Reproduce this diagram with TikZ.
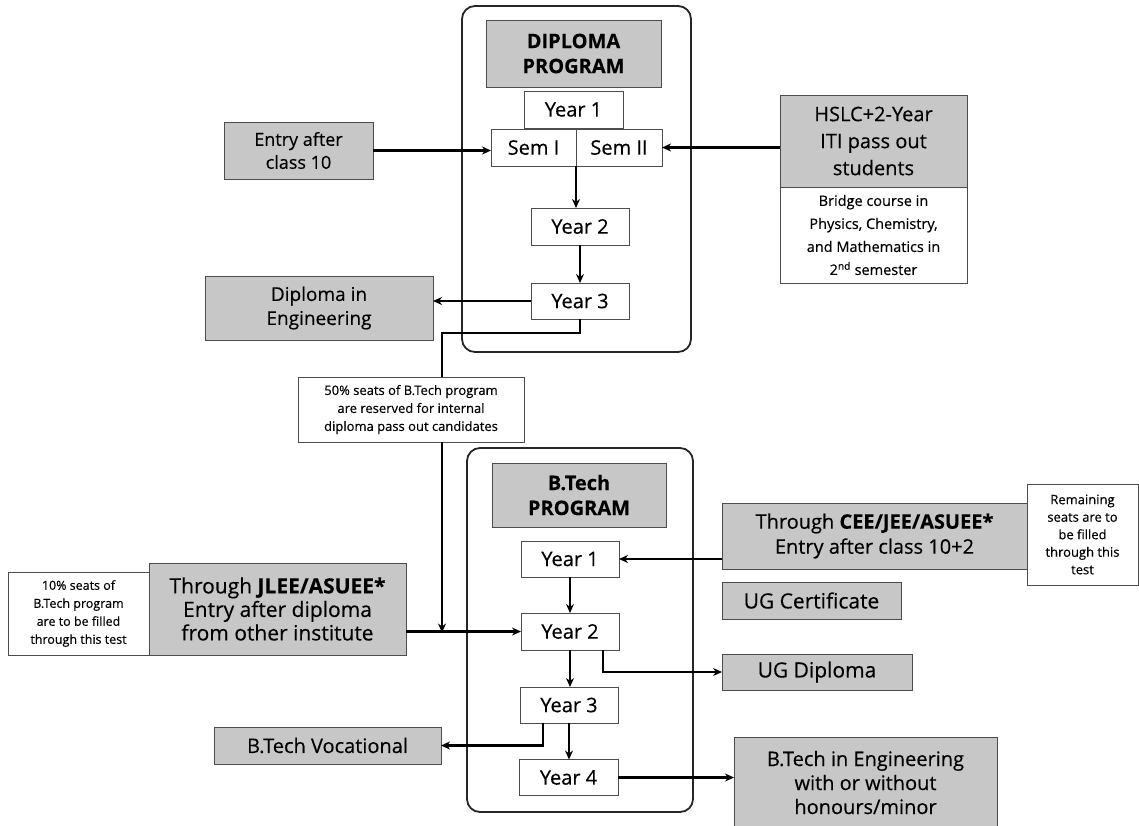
\documentclass[tikz,border=0pt]{standalone}
\usepackage{fontspec}
\setmainfont{Open Sans}[FakeBold=0.35]
\usetikzlibrary{arrows.meta}
\tikzset{
  base/.style={draw=black!70, line width=1pt, inner sep=0pt, outer sep=0pt, align=center},
  gbox/.style={base, fill=black!22},
  wbox/.style={base, fill=white},
  yearbox/.style={wbox, minimum width=98pt, minimum height=36pt, font=\fontsize{20}{22}\selectfont},
  outerbox/.style={draw=black!85, line width=1.8pt, rounded corners=13pt, inner sep=0pt, minimum width=#1},
  arr/.style={line width=2.2pt, -{Stealth[length=9pt,width=8pt]}},
  ln/.style={line width=2.2pt},
  big/.style={font=\fontsize{19}{24}\selectfont},
  small/.style={font=\fontsize{13}{18}\selectfont},
}
\begin{document}
\begin{tikzpicture}[x=1pt,y=-1pt]
\useasboundingbox (0,0) rectangle (1139,825);
% ---------- Diploma program ----------
\node[outerbox=229pt, minimum height=346pt] (dipbox) at (576.5,179) {};
\node[gbox, minimum width=175pt, minimum height=67pt, font=\bfseries\fontsize{20}{25}\selectfont] (diphead) at (573.5,53.5) {DIPLOMA\\PROGRAM};
\node[yearbox, minimum width=99pt, minimum height=37pt] (dy1) at (573.5,109.5) {Year 1};
\node[yearbox, minimum width=85pt, minimum height=37pt] (sem1) at (533.5,147.5) {Sem I};
\node[yearbox, minimum width=86pt, minimum height=37pt] (sem2) at (619,147.5) {Sem II};
\node[yearbox, minimum height=37pt] (dy2) at (580,226.5) {Year 2};
\node[yearbox] (dy3) at (580,301) {Year 3};

\node[gbox, minimum width=149pt, minimum height=57pt, font=\fontsize{18}{23}\selectfont] (entry10) at (298.5,150.5) {Entry after\\class 10};
\node[gbox, big, minimum width=228pt, minimum height=64pt] (dipeng) at (319,308) {Diploma in\\Engineering};
\node[gbox, minimum width=187pt, minimum height=92pt, font=\fontsize{20}{27}\selectfont] (hslc) at (873.5,141) {HSLC+2-Year\\ITI pass out\\students};
\node[wbox, minimum width=187pt, minimum height=96pt, font=\fontsize{14.5}{23}\selectfont] (bridge) at (873.5,235) {Bridge course in\\Physics, Chemistry,\\and Mathematics in\\2\textsuperscript{nd} semester};

\node[wbox, small, minimum width=226pt, minimum height=65pt] (pct50) at (411,409.5) {50\% seats of B.Tech program\\are reserved for internal\\diploma pass out candidates};

% ---------- B.Tech program ----------
\node[outerbox=226pt, minimum height=364pt] (btbox) at (580,630) {};
\node[gbox, minimum width=174pt, minimum height=64pt, font=\bfseries\fontsize{20}{25}\selectfont] (bthead) at (579,495) {B.Tech\\PROGRAM};
\node[yearbox] (by1) at (570,559) {Year 1};
\node[yearbox, minimum height=37pt] (by2) at (570,631.5) {Year 2};
\node[yearbox] (by3) at (569,705) {Year 3};
\node[yearbox, minimum width=99pt] (by4) at (568.5,777.5) {Year 4};

\node[wbox, minimum width=141pt, minimum height=83pt, font=\fontsize{12.5}{18}\selectfont] (pct10) at (78.5,613.5) {10\% seats of\\B.Tech program\\are to be filled\\through this test};
\node[gbox, minimum width=257pt, minimum height=92pt, font=\fontsize{21}{23.5}\selectfont] (jlee) at (277.5,609) {Through \textbf{JLEE/ASUEE*}\\Entry after diploma\\from other institute};
\node[gbox, minimum width=305pt, minimum height=66pt, font=\fontsize{20}{25}\selectfont] (cee) at (874.5,536) {Through \textbf{CEE/JEE/ASUEE*}\\Entry after class 10+2};
\node[wbox, minimum width=111pt, minimum height=101pt, font=\fontsize{13}{17.5}\selectfont] (remain) at (1082.5,534.5) {Remaining\\seats are to\\be filled\\through this\\test};
\node[gbox, minimum width=179pt, minimum height=37pt, font=\fontsize{21}{24}\selectfont] (ugcert) at (811.5,600.5) {UG Certificate};
\node[gbox, minimum width=190pt, minimum height=36pt, font=\fontsize{21}{24}\selectfont] (ugdip) at (817,672) {UG Diploma};
\node[gbox, minimum width=227pt, minimum height=37pt, font=\fontsize{20}{24}\selectfont] (btvoc) at (327.5,745.5) {B.Tech Vocational};
\node[gbox, minimum width=263pt, minimum height=91pt, font=\fontsize{20}{24}\selectfont] (bteng) at (865.5,782.5) {B.Tech in Engineering\\with or without\\honours/minor};

% ---------- connectors ----------
\coordinate (j1) at (442,333);
\coordinate (j2) at (603,675);
\coordinate (j3) at (543,745);
\draw[arr] (entry10.east) -- (entry10.east -| sem1.west);
\draw[arr] (hslc.west |- sem2.east) -- (sem2.east);
\draw[arr] (sem1.south east) -- (sem1.south east |- dy2.north);
\draw[arr] (dy2.south) -- (dy3.north);
\draw[arr] (dy3.west) -- (dy3.west -| dipeng.east);
\draw[ln] (dy3.south) |- (j1) -- (j1 |- pct50.north);
\draw[arr] (j1 |- pct50.south) -- ([yshift=-1pt]j1 |- by2.west);
\draw[arr] (jlee.east |- by2.west) -- (by2.west);
\draw[arr] (cee.west |- by1.east) -- (by1.east);
\draw[arr] (by1.south) -- (by1.south |- by2.north);
\draw[arr] (by2.south) -- (by2.south |- by3.north);
\draw[arr] (by3.south) -- (by3.south |- by4.north);
\draw[arr] (j2 |- by2.south) |- (ugdip.west);
\draw[arr] (j3 |- by3.south) |- (btvoc.east);
\draw[arr] (by4.east) -- (by4.east -| bteng.west);
\end{tikzpicture}
\end{document}
